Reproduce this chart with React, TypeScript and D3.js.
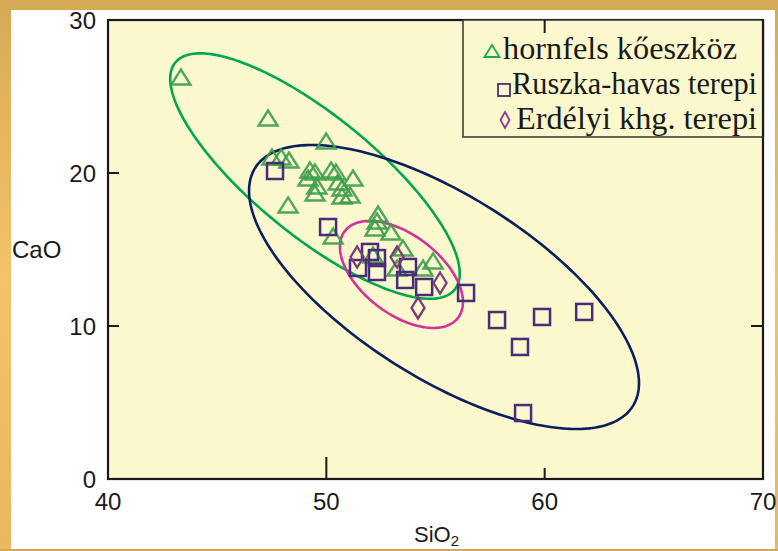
import React from "react";
import * as d3 from "d3";

// ---- data ----
const seriesNames = ["hornfels kőeszköz", "Ruszka-havas terepi", "Erdélyi khg. terepi"];

const hornfelsSiO2 = [43.34, 47.33, 49.99, 47.51, 47.93, 48.29, 48.25, 49.25, 49.48, 49.16, 49.57, 49.48, 50.22, 50.44, 50.54, 50.72, 50.72, 51.22, 51.09, 50.31, 52.37, 52.32, 52.23, 52.96, 53.51, 54.89, 54.43, 52.14, 53.24];
const hornfelsCaO = [26.27, 23.59, 22.09, 21.05, 21.05, 20.85, 17.91, 20.2, 20.07, 19.67, 19.15, 18.69, 20.2, 20.07, 19.41, 19.02, 18.5, 19.67, 18.56, 15.88, 17.32, 16.86, 16.41, 16.14, 15.1, 14.25, 13.79, 14.64, 13.79];

const ruszkaSiO2 = [47.65, 50.08, 52.0, 52.32, 51.45, 52.32, 53.74, 53.61, 54.48, 56.4, 57.82, 59.88, 61.81, 58.87, 59.01];
const ruszkaCaO = [20.13, 16.47, 14.84, 14.44, 13.79, 13.53, 13.86, 13.01, 12.55, 12.16, 10.39, 10.59, 10.92, 8.63, 4.31];

const erdelyiSiO2 = [51.41, 53.24, 55.21, 54.2];
const erdelyiCaO = [14.51, 14.51, 12.81, 11.18];

// ellipses: centre, half-extents (data units), correlation
const ellipseCx = [49.48, 55.39, 53.44];
const ellipseCy = [19.8, 12.55, 13.37];
const ellipseRx = [6.63, 8.93, 2.817];
const ellipseRy = [8.02, 9.28, 3.497];
const ellipseRho = [-0.793, -0.677, -0.517];

const xTickLabels = [40, 50, 60, 70];
const yTickLabels = [0, 10, 20, 30];

// ---- layout ----
const W = 778;
const H = 551;
const PL = 108, PR = 763, PT = 20, PB = 479;

const x = d3.scaleLinear().domain([40, 70]).range([PL, PR]);
const y = d3.scaleLinear().domain([0, 30]).range([PB, PT]);

const ellipseColors = ["#00a651", "#0b1f5e", "#d1329c"];

function ellipsePath(i: number) {
  const n = 240;
  const pts: [number, number][] = d3.range(n).map((k) => {
    const t = (k / n) * Math.PI * 2;
    const r = ellipseRho[i];
    const ex = ellipseCx[i] + ellipseRx[i] * Math.cos(t);
    const ey = ellipseCy[i] + ellipseRy[i] * (r * Math.cos(t) + Math.sqrt(1 - r * r) * Math.sin(t));
    return [x(ex), y(ey)];
  });
  return d3.line().curve(d3.curveLinearClosed)(pts) as string;
}

const tri = (cx: number, cy: number, w: number, h: number) =>
  `M${cx - w / 2},${cy + h / 2}L${cx},${cy - h / 2}L${cx + w / 2},${cy + h / 2}Z`;
const dia = (cx: number, cy: number, w: number, h: number) =>
  `M${cx},${cy - h / 2}L${cx + w / 2},${cy}L${cx},${cy + h / 2}L${cx - w / 2},${cy}Z`;

const legendX = [503, 512, 516];
const legendLen = [234, 245, 241];

export default function App() {
  const sans = "'Liberation Sans', Arial, sans-serif";
  const serif = "'Liberation Serif', 'Times New Roman', serif";
  return (
    <svg width={W} height={H} style={{ position: "absolute", left: 0, top: 0, display: "block" }}>
      <defs>
        <linearGradient id="gold" x1="0" y1="0" x2="0" y2="1">
          <stop offset="0" stopColor="#d6aa55" />
          <stop offset="0.5" stopColor="#f2c368" />
          <stop offset="1" stopColor="#e8b75e" />
        </linearGradient>
      </defs>
      <rect x={0} y={0} width={W} height={H} fill="url(#gold)" />
      <rect x={0} y={0} width={W} height={10} fill="#d6aa55" />
      <rect x={0} y={549} width={W} height={2} fill="#d6aa55" />
      <rect x={11} y={10} width={764} height={539} fill="#ffffff" />
      <rect x={PL} y={PT} width={PR - PL} height={PB - PT} fill="#fbf8cd" />

      {/* ellipses */}
      {ellipseCx.map((_, i) => (
        <path key={"e" + i} d={ellipsePath(i)} fill="none" stroke={ellipseColors[i]} strokeWidth={2.6} />
      ))}

      {/* triangles */}
      {hornfelsSiO2.map((v, i) => (
        <path key={"t" + i} d={tri(x(v), y(hornfelsCaO[i]), 19, 15)} fill="none" stroke="#3c9e4b" strokeOpacity={0.9} strokeWidth={2.4} strokeLinejoin="miter" />
      ))}
      {/* squares */}
      {ruszkaSiO2.map((v, i) => (
        <rect key={"s" + i} x={x(v) - 8} y={y(ruszkaCaO[i]) - 8} width={16} height={16} fill="none" stroke="#4b2c78" strokeWidth={2.5} />
      ))}
      {/* diamonds */}
      {erdelyiSiO2.map((v, i) => (
        <path key={"d" + i} d={dia(x(v), y(erdelyiCaO[i]), 13, 21)} fill="none" stroke="#7c3a78" strokeWidth={2.3} />
      ))}

      {/* frame */}
      <rect x={PL} y={PT} width={PR - PL} height={PB - PT} fill="none" stroke="#1a1a1a" strokeWidth={2.2} />
      {/* inner ticks */}
      <line x1={x(50)} x2={x(50)} y1={PB} y2={PB - 22} stroke="#1a1a1a" strokeWidth={2} />
      <line x1={x(60)} x2={x(60)} y1={PB} y2={PB - 11} stroke="#1a1a1a" strokeWidth={2} />
      <line x1={PL} x2={PL + 11} y1={y(20)} y2={y(20)} stroke="#1a1a1a" strokeWidth={2} />
      <line x1={PL} x2={PL + 11} y1={y(10)} y2={y(10)} stroke="#1a1a1a" strokeWidth={2} />
      <line x1={PR} x2={PR - 12} y1={y(10)} y2={y(10)} stroke="#1a1a1a" strokeWidth={2} />

      {/* tick labels */}
      {yTickLabels.map((t) => (
        <text key={"yl" + t} x={96} y={y(t) + 9} textAnchor="end" fontFamily={sans} fontSize={24} fill="#1a1a1a">{t}</text>
      ))}
      {xTickLabels.map((t) => (
        <text key={"xl" + t} x={x(t)} y={510} textAnchor="middle" fontFamily={sans} fontSize={24} fill="#1a1a1a">{t}</text>
      ))}
      <text x={414} y={542} fontFamily={sans} fontSize={22} fill="#1a1a1a">SiO<tspan fontSize={15} dy={4}>2</tspan></text>
      <text x={12} y={258} fontFamily={sans} fontSize={24} fill="#1a1a1a">CaO</text>

      {/* legend */}
      <rect x={463} y={PT} width={PR - 463} height={117} fill="#fbf8cd" stroke="#333" strokeWidth={1.5} />
      <line x1={PR} x2={PR} y1={PT} y2={PT + 117} stroke="#1a1a1a" strokeWidth={2.2} />
      <line x1={x(60)} x2={x(60)} y1={PT} y2={PT + 13} stroke="#1a1a1a" strokeWidth={2} />
      <path d={tri(492, 51, 15, 12)} fill="none" stroke="#1ea84f" strokeWidth={1.8} />
      <rect x={498} y={84} width={12} height={12} fill="none" stroke="#4b2c78" strokeWidth={1.8} />
      <path d={dia(505, 120, 9, 16)} fill="none" stroke="#8e3a8e" strokeWidth={1.8} />
      {seriesNames.map((s, i) => (
        <text key={"lg" + i} x={legendX[i]} y={59 + i * 35} fontFamily={serif} fontSize={31} fill="#1a1a1a" textLength={legendLen[i]} lengthAdjust="spacingAndGlyphs">{s}</text>
      ))}
    </svg>
  );
}
